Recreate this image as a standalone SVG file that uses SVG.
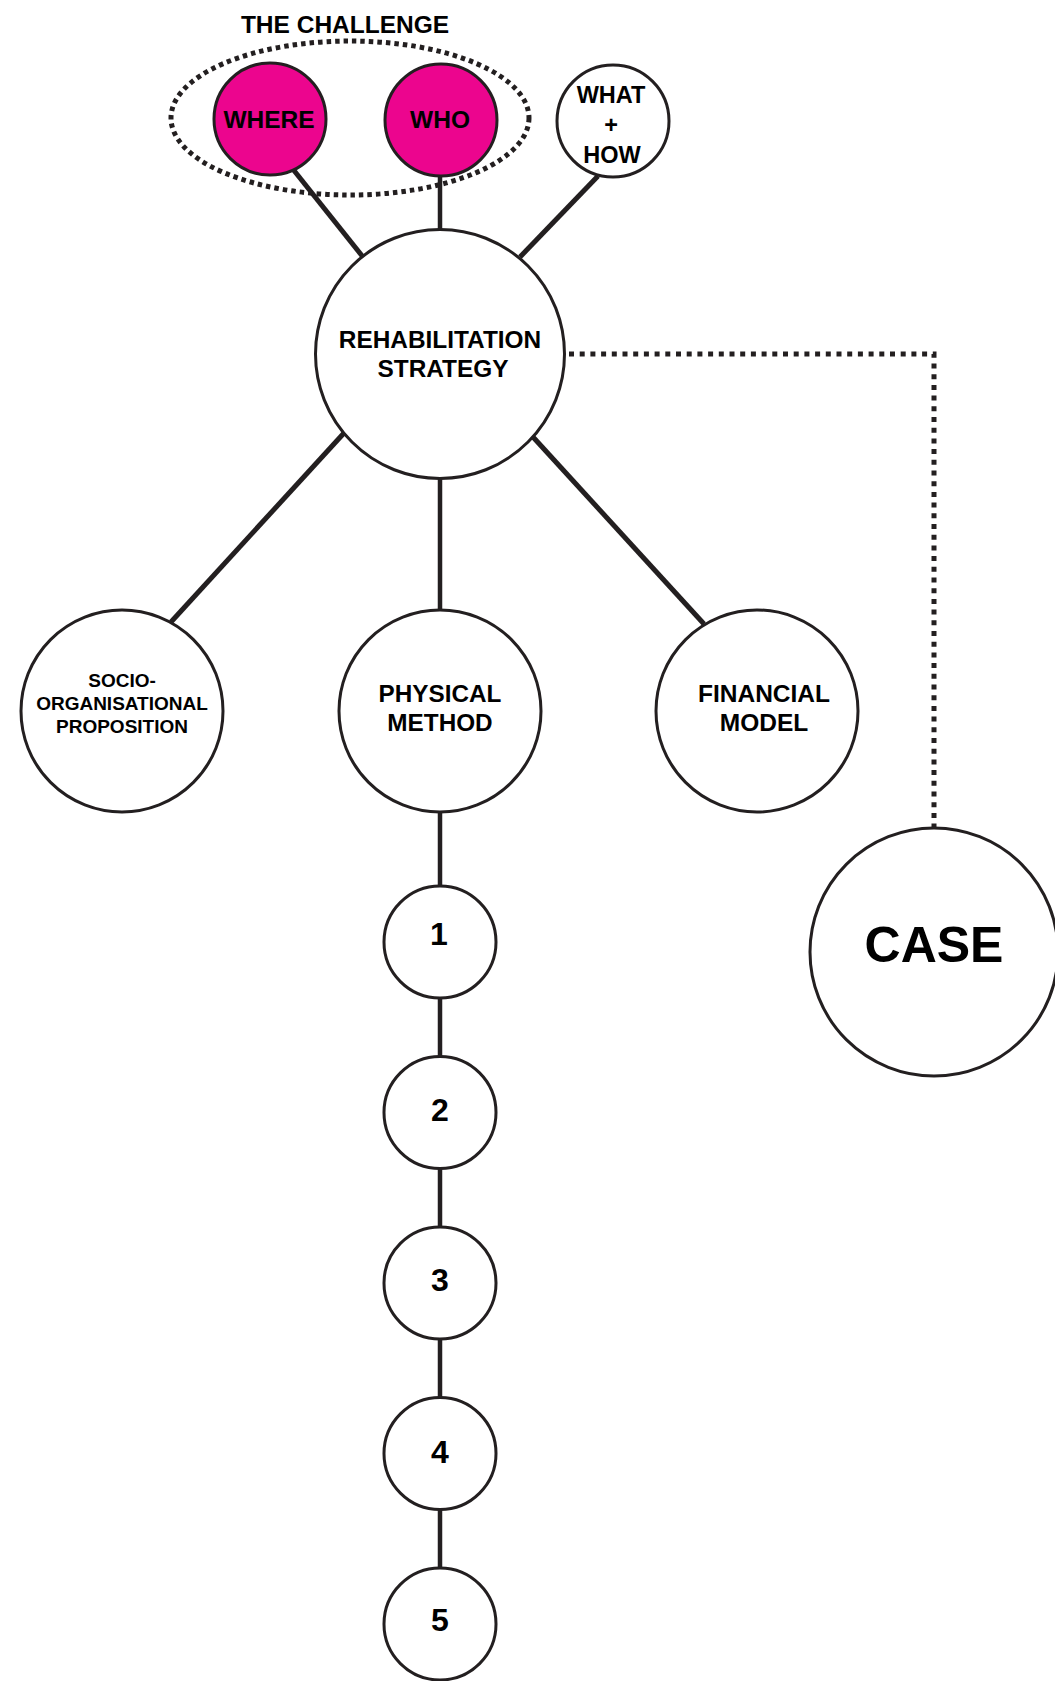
<svg xmlns="http://www.w3.org/2000/svg" width="1055" height="1681" viewBox="0 0 1055 1681">
<style>
.n{fill:#fff;stroke:#231f20;stroke-width:3}
.p{fill:#ec058e;stroke:#231f20;stroke-width:3}
.t{font-family:"Liberation Sans",Arial,sans-serif;font-weight:bold;fill:#000;text-anchor:middle}
.l{stroke:#231f20;stroke-width:4.5;fill:none}
.g{stroke:#231f20;stroke-width:5;fill:none}
.d{stroke:#231f20;stroke-width:5;fill:none;stroke-dasharray:4.5 4}
.dl{stroke:#231f20;stroke-width:5;fill:none;stroke-dasharray:5 5.7}
</style>
<rect width="1055" height="1681" fill="#fff"/>
<g id="connectors">
<line class="g" x1="292" y1="168" x2="363" y2="257"/>
<line class="l" x1="440" y1="176" x2="440" y2="230"/>
<line class="g" x1="598" y1="176" x2="520" y2="257"/>
<line class="g" x1="344" y1="433" x2="171" y2="622"/>
<line class="l" x1="440" y1="478" x2="440" y2="611"/>
<line class="g" x1="533" y1="437" x2="704" y2="624"/>
<line class="l" x1="440" y1="812" x2="440" y2="886"/>
<line class="l" x1="440" y1="998" x2="440" y2="1057"/>
<line class="l" x1="440" y1="1168" x2="440" y2="1227"/>
<line class="l" x1="440" y1="1339" x2="440" y2="1398"/>
<line class="l" x1="440" y1="1510" x2="440" y2="1568"/>
<polyline class="dl" points="569,354 934,354 934,828"/>
</g>
<g id="challenge">
<ellipse class="d" cx="350" cy="118" rx="179" ry="77"/>
<text class="t" x="345" y="33" font-size="24.5">THE CHALLENGE</text>
</g>
<g id="where">
<circle class="p" cx="270" cy="119" r="56"/>
<text class="t" x="269" y="128" font-size="24.5">WHERE</text>
</g>
<g id="who">
<circle class="p" cx="441" cy="120" r="56"/>
<text class="t" x="440" y="128" font-size="24.5">WHO</text>
</g>
<g id="whathow">
<circle class="n" cx="613" cy="121" r="56"/>
<text class="t" x="611" y="103" font-size="23.5">WHAT</text>
<text class="t" x="611" y="133" font-size="23.5">+</text>
<text class="t" x="612" y="163" font-size="23.5">HOW</text>
</g>
<g id="rehab">
<circle class="n" cx="440" cy="354" r="124.5"/>
<text class="t" x="440" y="348" font-size="24.4">REHABILITATION</text>
<text class="t" x="443" y="377" font-size="24.4">STRATEGY</text>
</g>
<g id="socio">
<circle class="n" cx="122" cy="711" r="101"/>
<text class="t" x="122" y="687" font-size="19">SOCIO-</text>
<text class="t" x="122" y="710" font-size="19">ORGANISATIONAL</text>
<text class="t" x="122" y="732.5" font-size="19">PROPOSITION</text>
</g>
<g id="physical">
<circle class="n" cx="440" cy="711" r="101"/>
<text class="t" x="440" y="702" font-size="24.3">PHYSICAL</text>
<text class="t" x="440" y="731" font-size="24.3">METHOD</text>
</g>
<g id="financial">
<circle class="n" cx="757" cy="711" r="101"/>
<text class="t" x="764" y="702" font-size="24.5">FINANCIAL</text>
<text class="t" x="764" y="731" font-size="24.5">MODEL</text>
</g>
<g id="case">
<circle class="n" cx="934" cy="952" r="124"/>
<text class="t" x="934" y="962" font-size="50">CASE</text>
</g>
<g id="n1">
<circle class="n" cx="440" cy="942" r="56"/>
<text class="t" x="439" y="945" font-size="32">1</text>
</g>
<g id="n2">
<circle class="n" cx="440" cy="1112.5" r="56"/>
<text class="t" x="440" y="1121" font-size="32">2</text>
</g>
<g id="n3">
<circle class="n" cx="440" cy="1283" r="56"/>
<text class="t" x="440" y="1291" font-size="32">3</text>
</g>
<g id="n4">
<circle class="n" cx="440" cy="1453.5" r="56"/>
<text class="t" x="440" y="1463" font-size="32">4</text>
</g>
<g id="n5">
<circle class="n" cx="440" cy="1624" r="56"/>
<text class="t" x="440" y="1631" font-size="32">5</text>
</g>
</svg>
